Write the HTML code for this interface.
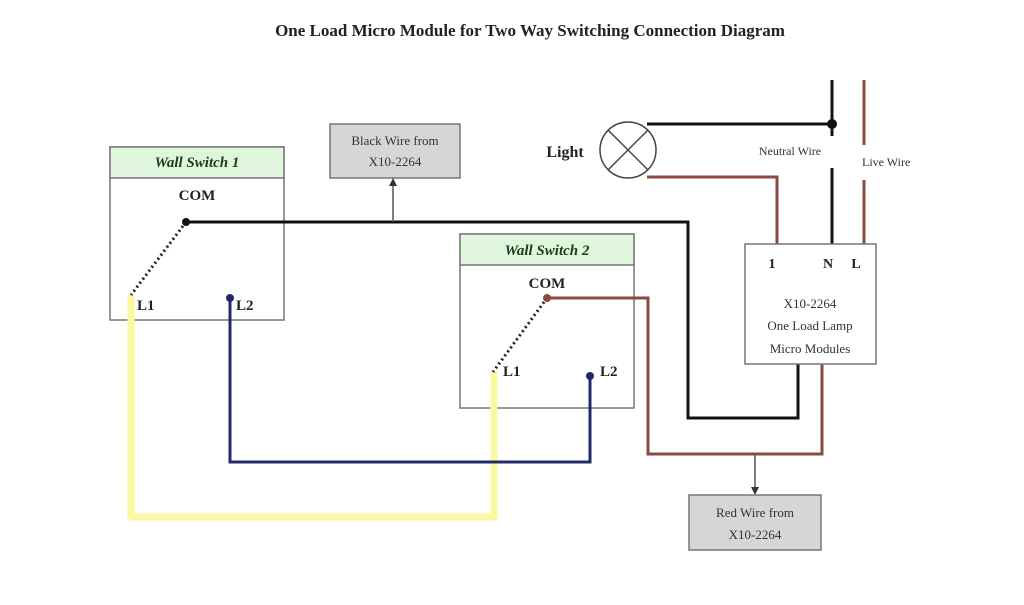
<!DOCTYPE html>
<html><head><meta charset="utf-8"><style>
body{margin:0;background:#fff;}
svg text{font-family:"Liberation Serif",serif;}
</style></head><body>
<svg width="1024" height="600" xmlns="http://www.w3.org/2000/svg">
<text x="530" y="36" text-anchor="middle" font-size="17" font-weight="bold" fill="#222">One Load Micro Module for Two Way Switching Connection Diagram</text>
<!-- Wall switch 1 -->
<rect x="110" y="147" width="174" height="173" fill="#fff" stroke="#777" stroke-width="1.5"/>
<rect x="110" y="147" width="174" height="31" fill="#dff6dc" stroke="#777" stroke-width="1.5"/>
<text x="197" y="167" text-anchor="middle" font-size="15" font-weight="bold" font-style="italic" fill="#1a3a1a">Wall Switch 1</text>
<text x="197" y="200" text-anchor="middle" font-size="15" font-weight="bold" fill="#222">COM</text>
<!-- Wall switch 2 -->
<rect x="460" y="234" width="174" height="174" fill="#fff" stroke="#777" stroke-width="1.5"/>
<rect x="460" y="234" width="174" height="31" fill="#dff6dc" stroke="#777" stroke-width="1.5"/>
<text x="547" y="255" text-anchor="middle" font-size="15" font-weight="bold" font-style="italic" fill="#1a3a1a">Wall Switch 2</text>
<text x="547" y="288" text-anchor="middle" font-size="15" font-weight="bold" fill="#222">COM</text>
<!-- wires -->
<polyline points="131,295 131,517 494,517 494,372" fill="none" stroke="#fcf7a2" stroke-width="7"/>
<polyline points="230,298 230,462 590,462 590,376" fill="none" stroke="#23286a" stroke-width="3"/>
<line x1="186" y1="222" x2="131" y2="295" stroke="#222" stroke-width="3" stroke-dasharray="2,3"/>
<text x="137" y="310" font-size="15" font-weight="bold" fill="#222">L1</text>
<text x="236" y="310" font-size="15" font-weight="bold" fill="#222">L2</text>
<circle cx="230" cy="298" r="4" fill="#23286a"/>
<polyline points="186,222 688,222 688,418 798,418 798,364" fill="none" stroke="#111" stroke-width="3"/>
<circle cx="186" cy="222" r="4" fill="#111"/>
<!-- black wire box -->
<rect x="330" y="124" width="130" height="54" fill="#d6d6d6" stroke="#777" stroke-width="1.5"/>
<text x="395" y="145" text-anchor="middle" font-size="13" fill="#333">Black Wire from</text>
<text x="395" y="166" text-anchor="middle" font-size="13" fill="#333">X10-2264</text>
<line x1="393" y1="222" x2="393" y2="184" stroke="#555" stroke-width="1.5"/>
<polygon points="393,178 389,186 397,186" fill="#333"/>
<line x1="547" y1="298" x2="493" y2="372" stroke="#222" stroke-width="3" stroke-dasharray="2,3"/>
<text x="503" y="376" font-size="15" font-weight="bold" fill="#222">L1</text>
<text x="600" y="376" font-size="15" font-weight="bold" fill="#222">L2</text>
<circle cx="590" cy="376" r="4" fill="#23286a"/>
<polyline points="547,298 648,298 648,454 822,454 822,364" fill="none" stroke="#8a4a40" stroke-width="3"/>
<circle cx="547" cy="298" r="4" fill="#8a4a40"/>
<!-- red wire box -->
<line x1="755" y1="454" x2="755" y2="489" stroke="#555" stroke-width="1.5"/>
<polygon points="755,495 751,487 759,487" fill="#333"/>
<rect x="689" y="495" width="132" height="55" fill="#d6d6d6" stroke="#777" stroke-width="1.5"/>
<text x="755" y="517" text-anchor="middle" font-size="13" fill="#333">Red Wire from</text>
<text x="755" y="539" text-anchor="middle" font-size="13" fill="#333">X10-2264</text>
<!-- light -->
<text x="565" y="157" text-anchor="middle" font-size="16" font-weight="bold" fill="#222">Light</text>
<circle cx="628" cy="150" r="28" fill="#fff" stroke="#444" stroke-width="1.5"/>
<line x1="608" y1="130" x2="648" y2="170" stroke="#444" stroke-width="1.5"/>
<line x1="648" y1="130" x2="608" y2="170" stroke="#444" stroke-width="1.5"/>
<polyline points="647,124 832,124" fill="none" stroke="#111" stroke-width="3"/>
<line x1="832" y1="80" x2="832" y2="136" stroke="#111" stroke-width="3"/>
<circle cx="832" cy="124" r="5" fill="#111"/>
<line x1="832" y1="168" x2="832" y2="244" stroke="#111" stroke-width="3"/>
<text x="790" y="155" text-anchor="middle" font-size="12" fill="#333">Neutral Wire</text>
<line x1="864" y1="80" x2="864" y2="145" stroke="#8a4a40" stroke-width="3"/>
<line x1="864" y1="180" x2="864" y2="244" stroke="#8a4a40" stroke-width="3"/>
<text x="862" y="166" font-size="12" fill="#333">Live Wire</text>
<polyline points="647,177 777,177 777,244" fill="none" stroke="#8a4a40" stroke-width="3"/>
<!-- module -->
<rect x="745" y="244" width="131" height="120" fill="#fff" stroke="#777" stroke-width="1.5"/>
<text x="772" y="268" text-anchor="middle" font-size="14" font-weight="bold" fill="#222">1</text>
<text x="828" y="268" text-anchor="middle" font-size="14" font-weight="bold" fill="#222">N</text>
<text x="856" y="268" text-anchor="middle" font-size="14" font-weight="bold" fill="#222">L</text>
<text x="810" y="308" text-anchor="middle" font-size="13" fill="#333">X10-2264</text>
<text x="810" y="330" text-anchor="middle" font-size="13" fill="#333">One Load Lamp</text>
<text x="810" y="353" text-anchor="middle" font-size="13" fill="#333">Micro Modules</text>
</svg>
</body></html>
